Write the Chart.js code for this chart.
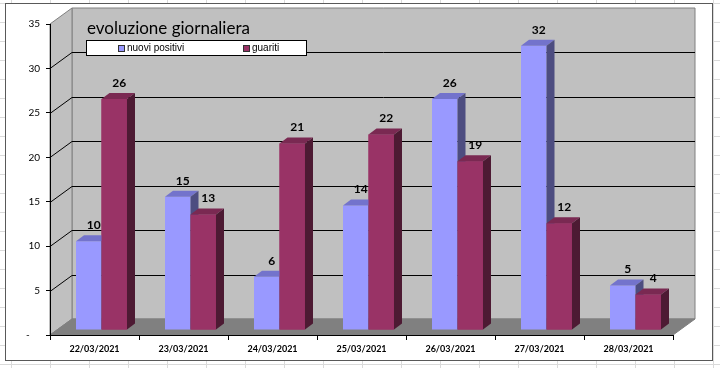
<!DOCTYPE html>
<html>
<head>
<meta charset="utf-8">
<script src="https://cdn.jsdelivr.net/npm/chart.js@4.4.1/dist/chart.umd.min.js"></script>
<style>
  html, body { margin: 0; padding: 0; background: #fff; }
  canvas { display: block; }
</style>
</head>
<body>
<canvas id="giornaliera" width="720" height="368"></canvas>
<script>
const dates = ['22/03/2021', '23/03/2021', '24/03/2021', '25/03/2021', '26/03/2021', '27/03/2021', '28/03/2021'];
const nuoviPositivi = [10, 15, 6, 14, 26, 32, 5];
const guariti = [26, 13, 21, 22, 19, 12, 4];
const yTicks = [0, 5, 10, 15, 20, 25, 30, 35];
const seriesNames = ['nuovi positivi', 'guariti'];
const chartTitle = 'evoluzione giornaliera';

// 3d look: wall depth, where the bars sit, how deep the bars are
const WALL = { x: 22, y: -16 };
const SHIFT = { x: 7, y: -5 };
const DEPTH = { x: 8, y: -6 };

const faces = [
  { front: '#9999ff', top: '#7373cc', side: '#4d4d80' },
  { front: '#993366', top: '#7a2952', side: '#4d1a33' }
];

function poly(ctx, pts, fill, stroke) {
  ctx.beginPath();
  ctx.moveTo(pts[0][0], pts[0][1]);
  for (let i = 1; i < pts.length; i++) ctx.lineTo(pts[i][0], pts[i][1]);
  ctx.closePath();
  if (fill) { ctx.fillStyle = fill; ctx.fill(); }
  if (stroke) { ctx.strokeStyle = stroke; ctx.lineWidth = 1; ctx.stroke(); }
}

function barFaces(ctx, bar, c) {
  const l = bar.x - bar.width / 2, r = bar.x + bar.width / 2;
  const t = bar.y, b = bar.base;
  poly(ctx, [[l, t], [r, t], [r + DEPTH.x, t + DEPTH.y], [l + DEPTH.x, t + DEPTH.y]], c.top);
  poly(ctx, [[r, t], [r + DEPTH.x, t + DEPTH.y], [r + DEPTH.x, b + DEPTH.y], [r, b]], c.side);
}

const excelLook = {
  id: 'excelLook',
  beforeDraw(chart) {
    const ctx = chart.ctx;
    const { left: L, right: R, top: T, bottom: B } = chart.chartArea;
    const y = chart.scales.y;
    ctx.save();
    // sheet behind the chart
    ctx.fillStyle = '#fff';
    ctx.fillRect(0, 0, chart.width, chart.height);
    ctx.strokeStyle = '#dadada';
    ctx.lineWidth = 1;
    for (let gx = 11; gx < chart.width; gx += 39) {
      ctx.beginPath(); ctx.moveTo(gx + 0.5, 0); ctx.lineTo(gx + 0.5, chart.height); ctx.stroke();
    }
    for (let gy = 3; gy < chart.height; gy += 19) {
      ctx.beginPath(); ctx.moveTo(0, gy + 0.5); ctx.lineTo(chart.width, gy + 0.5); ctx.stroke();
    }
    // chart box
    ctx.fillStyle = '#fff';
    ctx.fillRect(5, 3, 707, 357);
    ctx.strokeStyle = '#595959';
    ctx.strokeRect(5.5, 3.5, 707, 357);

    // walls and floor
    const wx = WALL.x, wy = WALL.y;
    poly(ctx, [[L + wx, T + wy], [R + wx, T + wy], [R + wx, B + wy], [L + wx, B + wy]], '#c0c0c0', '#808080');
    poly(ctx, [[L, T], [L + wx, T + wy], [L + wx, B + wy], [L, B]], '#c0c0c0', '#808080');
    poly(ctx, [[L, B], [L + wx, B + wy], [R + wx, B + wy], [R, B]], '#808080', '#808080');

    // gridlines on side wall and back wall
    ctx.strokeStyle = '#000';
    yTicks.forEach(v => {
      if (v === 0 || v === y.max) return;
      const py = Math.round(y.getPixelForValue(v)) + 0.5;
      ctx.beginPath();
      ctx.moveTo(L, py);
      ctx.lineTo(L + wx, py + wy);
      ctx.lineTo(R + wx, py + wy);
      ctx.stroke();
    });
    ctx.restore();
  },
  beforeDatasetsDraw(chart) {
    chart.ctx.save();
    chart.ctx.translate(SHIFT.x, SHIFT.y);
  },
  afterDatasetsDraw(chart) {
    const ctx = chart.ctx;
    const blue = chart.getDatasetMeta(0).data;
    const red = chart.getDatasetMeta(1).data;
    // Chart.js paints the last dataset first, so put the second series back on top
    blue.forEach((bar, j) => {
      barFaces(ctx, bar, faces[0]);
      red[j].draw(ctx);
      barFaces(ctx, red[j], faces[1]);
    });

    ctx.fillStyle = '#000';
    ctx.font = 'bold 12px Lato';
    ctx.textAlign = 'center';
    ctx.textBaseline = 'middle';
    chart.data.datasets.forEach((ds, i) => {
      chart.getDatasetMeta(i).data.forEach((bar, j) => {
        ctx.fillText(String(ds.data[j]), bar.x + 5, bar.y + DEPTH.y - 10);
      });
    });
    ctx.restore();
  },
  afterDraw(chart) {
    const ctx = chart.ctx;
    ctx.save();
    // title on the back wall
    ctx.fillStyle = '#000';
    ctx.font = '17px Lato';
    ctx.textAlign = 'left';
    ctx.textBaseline = 'alphabetic';
    ctx.fillText(chartTitle, 87, 34);
    // legend box
    ctx.fillStyle = '#fff';
    ctx.fillRect(86, 40, 220, 15);
    ctx.strokeStyle = '#000';
    ctx.lineWidth = 1;
    ctx.strokeRect(86.5, 40.5, 220, 15);
    const itemX = [118, 243];
    ctx.font = '10px "Liberation Sans"';
    ctx.textBaseline = 'middle';
    seriesNames.forEach((name, i) => {
      ctx.fillStyle = faces[i].front;
      ctx.fillRect(itemX[i], 45, 6, 6);
      ctx.strokeStyle = '#333';
      ctx.strokeRect(itemX[i] + 0.5, 45.5, 6, 6);
      ctx.fillStyle = '#000';
      ctx.fillText(name, itemX[i] + 9, 48.5);
    });
    ctx.restore();
  }
};

new Chart(document.getElementById('giornaliera'), {
  type: 'bar',
  data: {
    labels: dates,
    datasets: [{
      label: seriesNames[0],
      data: nuoviPositivi,
      backgroundColor: faces[0].front,
      borderWidth: 0
    }, {
      label: seriesNames[1],
      data: guariti,
      backgroundColor: faces[1].front,
      borderWidth: 0
    }]
  },
  options: {
    responsive: false,
    animation: false,
    layout: { padding: { top: 24, right: 47, bottom: 0, left: 0 } },
    datasets: { bar: { categoryPercentage: 0.573, barPercentage: 1, clip: false } },
    plugins: {
      legend: { display: false },
      title: { display: false },
      tooltip: { enabled: false }
    },
    scales: {
      x: {
        grid: { drawOnChartArea: false, color: '#000', tickLength: 5, offset: true },
        border: { color: '#000' },
        ticks: { color: '#000', maxRotation: 0, padding: 4, font: { family: 'Lato', size: 9, weight: 'bold' } },
        afterFit: s => { s.height = 33; }
      },
      y: {
        min: 0,
        max: 35,
        afterBuildTicks: s => { s.ticks = yTicks.map(v => ({ value: v })); },
        grid: { drawOnChartArea: false, color: '#000', tickLength: 4 },
        border: { color: '#000' },
        ticks: {
          color: '#000',
          padding: 6,
          font: { family: 'Lato', size: 10 },
          callback: v => v === 0 ? '-    ' : String(v)
        },
        afterFit: s => { s.width = 50; }
      }
    }
  },
  plugins: [excelLook]
});
</script>
</body>
</html>
